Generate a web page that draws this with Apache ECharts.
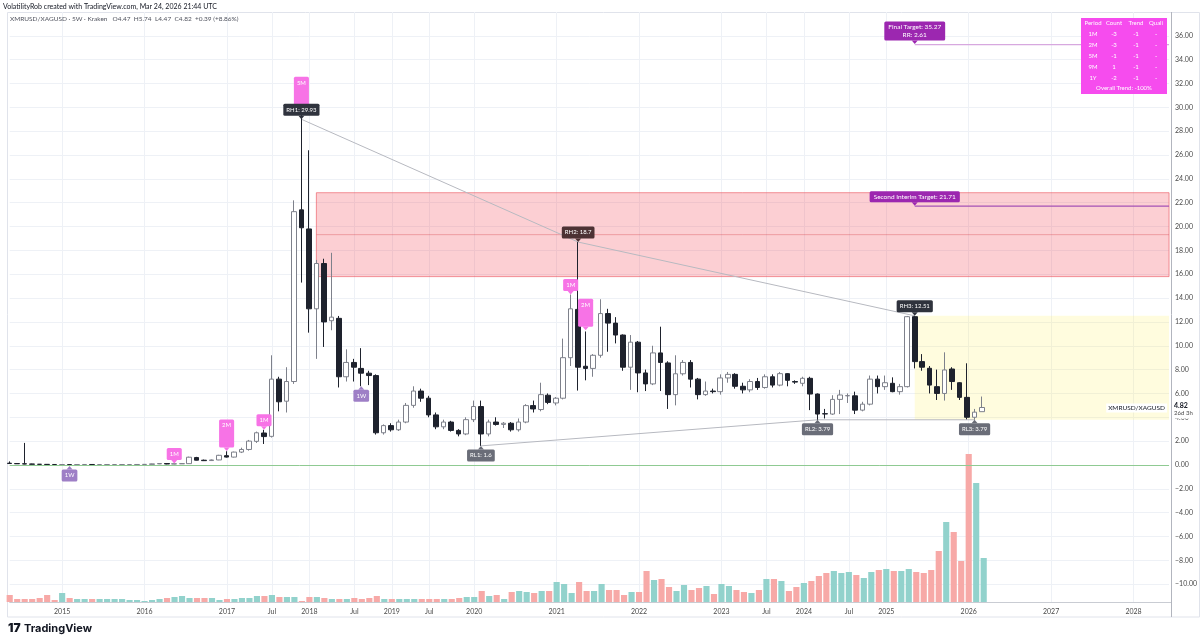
<!DOCTYPE html>
<html><head><meta charset="utf-8">
<script src="https://cdn.jsdelivr.net/npm/echarts@6/dist/echarts.min.js"></script>
<style>html,body{margin:0;padding:0;background:#fff}#c{width:1200px;height:641px}</style>
</head><body><div id="c"></div>
<script>
// ---------------- DATA ----------------
// 5W candles XMRUSD/XAGUSD (Kraken): [open, high, low, close], bar index = position
const CANDLES = [
 [0.15,0.30,0.10,0.12],[0.12,0.15,0.08,0.10],[0.10,1.85,0.06,0.08],[0.08,0.10,0.05,0.06],[0.06,0.08,0.04,0.05],
 [0.05,0.07,0.03,0.04],[0.04,0.06,0.02,0.03],[0.03,0.05,0.02,0.03],[0.03,0.04,0.02,0.02],[0.02,0.04,0.02,0.03],
 [0.03,0.05,0.02,0.04],[0.04,0.05,0.03,0.03],[0.03,0.04,0.02,0.03],[0.03,0.04,0.02,0.03],[0.03,0.04,0.02,0.03],
 [0.03,0.04,0.03,0.03],[0.03,0.04,0.02,0.03],[0.03,0.05,0.03,0.04],[0.04,0.06,0.03,0.05],[0.05,0.11,0.04,0.09],
 [0.09,0.14,0.07,0.12],[0.12,0.15,0.06,0.08],[0.08,0.12,0.06,0.10],[0.10,0.14,0.08,0.11],[0.11,0.70,0.10,0.65],
 [0.62,0.68,0.38,0.40],[0.40,0.45,0.33,0.36],[0.37,0.46,0.33,0.42],[0.42,0.85,0.40,0.81],[0.78,1.15,0.62,0.66],
 [0.66,1.12,0.62,1.08],[1.08,1.45,1.00,1.30],[1.30,2.10,1.20,2.00],[1.98,2.80,1.85,2.70],[2.68,2.95,1.76,2.38],
 [2.40,9.20,2.30,7.20],[7.20,7.40,4.50,5.30],[5.35,8.20,4.40,7.00],[7.00,22.20,6.80,21.25],[21.40,29.93,15.30,19.90],
 [19.80,26.40,11.10,13.10],[13.10,17.20,8.90,16.90],[16.90,17.30,9.90,12.00],[12.10,17.80,11.30,12.40],[12.30,12.50,6.50,7.40],
 [7.40,9.70,7.00,8.60],[8.60,8.90,7.00,8.20],[8.10,9.80,6.60,7.70],[7.70,7.90,6.70,7.50],[7.50,7.60,2.55,2.70],
 [2.70,3.40,2.55,3.30],[3.30,3.50,2.80,2.95],[2.95,3.80,2.85,3.60],[3.60,5.20,3.50,5.00],[5.00,6.60,4.80,6.20],
 [6.20,6.40,5.30,5.60],[5.60,5.80,4.00,4.20],[4.20,4.40,3.00,3.20],[3.20,3.80,3.00,3.60],[3.60,3.70,2.80,2.90],
 [2.90,3.00,2.40,2.60],[2.60,4.00,2.50,3.80],[3.80,5.40,3.60,4.90],[4.90,5.40,1.60,2.60],[2.60,3.80,2.40,3.60],
 [3.60,4.00,3.30,3.40],[3.40,3.60,3.10,3.50],[3.50,3.60,2.80,2.95],[2.95,3.90,2.80,3.60],[3.60,5.10,3.50,4.98],
 [4.98,5.40,4.40,4.70],[4.65,6.90,4.50,5.90],[5.85,6.00,5.10,5.25],[5.20,5.70,5.00,5.60],[5.60,10.60,5.50,9.00],
 [9.00,14.30,8.30,13.10],[13.05,18.70,6.24,8.20],[8.28,11.20,7.10,8.10],[8.10,9.30,7.40,9.20],[9.20,13.90,9.00,12.70],
 [12.70,13.10,9.50,11.90],[11.90,12.40,10.20,10.90],[10.90,10.95,7.90,8.20],[8.20,10.90,6.30,10.30],[10.30,10.40,6.10,7.72],
 [7.72,8.00,6.20,6.80],[6.80,10.00,6.70,9.40],[9.40,11.60,6.20,8.60],[8.56,8.70,4.70,5.90],[5.90,9.20,5.00,7.65],
 [7.65,8.80,7.50,8.60],[8.60,8.80,6.50,7.20],[7.20,7.30,5.50,5.90],[5.90,7.00,5.80,6.20],[6.20,6.40,6.00,6.15],
 [6.15,7.60,5.90,7.30],[7.30,7.80,6.90,7.60],[7.60,7.70,6.40,6.60],[6.60,6.90,6.00,6.30],[6.30,7.20,6.10,7.00],
 [7.00,7.30,6.30,6.50],[6.50,7.60,6.40,7.40],[7.40,7.60,6.50,6.70],[6.70,7.80,6.60,7.66],[7.66,7.70,6.60,7.10],
 [7.00,7.10,6.80,6.95],[6.85,7.40,6.60,7.27],[7.27,7.40,4.60,5.95],[5.95,6.00,3.79,4.27],[4.30,4.70,3.90,4.28],
 [4.27,5.85,4.20,5.50],[5.50,6.30,4.27,5.87],[5.80,6.00,5.20,5.82],[5.80,6.15,4.27,4.60],[4.60,5.30,4.50,5.10],
 [5.10,7.50,5.00,7.20],[7.20,7.50,6.00,6.57],[6.57,7.50,6.30,6.90],[6.85,7.35,6.10,6.15],[6.15,6.80,5.90,6.57],
 [6.57,12.50,6.50,12.44],[12.44,12.51,8.10,8.67],[8.67,9.30,7.90,8.20],[8.11,8.30,6.00,6.70],[6.57,8.00,5.45,6.00],
 [6.00,9.45,5.40,7.97],[8.05,8.20,6.30,7.00],[6.90,6.95,5.45,5.67],[5.67,8.53,3.83,4.00],[4.00,4.70,3.79,4.43],
 [4.47,5.74,4.47,4.82]
];
// volume (relative units)
const VOLUME = [
 7,3,3,3,4,7,2,9,4,3, 3,3,3,3,3,3,2,2,1,2, 3,4,5,6,4,4,4,4,2,3,
 3,4,4,6,6,7,5,5,5,1, 5,5,4,3,3,3,4,3,4,6, 3,3,3,3,3,3,3,3,3,3,
 4,5,5,11,6,7,3,10,11,10, 9,11,11,20,18,9,20,11,11,18, 12,12,7,10,10,31,22,23,15,11,
 17,12,14,16,8,18,16,12,10,9, 12,23,23,21,11,15,19,21,26,29, 31,29,30,27,24,30,32,33,31,31,
 33,30,29,32,51,80,70,41,148,119, 44
];
const BAR_SLOTS = 156;              // visible bar slots incl. future space
const TIME_TICKS = {7:'2015',18:'2016',29:'2017',35:'Jul',40:'2018',46:'Jul',51:'2019',56:'Jul',62:'2020',
  73:'2021',84:'2022',95:'2023',101:'Jul',106:'2024',112:'Jul',117:'2025',128:'2026',139:'2027',150:'2028'};
const Y_MIN = -12, Y_MAX = 38, Y_STEP = 2;
const VOL_MAX = 590;
const PIVOT_HIGHS = [[39, 29.0], [76, 18.7], [121, 12.51]];
const PIVOT_LOWS = [[63, 1.6], [108, 3.79], [129, 3.79]];
// zones: [startBar, top, bottom, kind]
const ZONES = [[41, 22.84, 15.8, 'supply'], [121, 12.51, 3.79, 'target']];
// targets: [startBar, value, label, kind]
const TARGETS = [[121, 35.27, 'Final Target: 35.27\nRR: 2.61', 'final'], [121, 21.71, 'Second Interim Target: 21.71', 'interim']];
// callouts: [bar, value, text, kind]
const CALLOUTS = [
 [8, -0.08, '1W', 'sell'], [22, 0.12, '1M', 'buy'], [29, 1.17, '2M\n\n', 'buy'], [34, 2.95, '1M', 'buy'],
 [39, 29.93, '5M\n\n', 'buy'], [39, 29.0, 'RH1: 29.93', 'high'], [47, 6.6, '1W', 'sell'],
 [63, 1.6, 'RL1: 1.6', 'low'], [75, 14.3, '1M', 'buy'], [76, 18.7, 'RH2: 18.7', 'high2'], [77, 11.3, '2M\n\n', 'buy'],
 [108, 3.79, 'RL2: 3.79', 'low'], [121, 12.51, 'RH3: 12.51', 'high'], [129, 3.79, 'RL3: 3.79', 'low']
];
const LAST = {bar: 130, price: 4.82, countdown: '26d 3h', symbol: 'XMRUSD/XAGUSD'};
const TABLE_HEADER = ['Period', 'Count', 'Trend', 'Quali'];
const TABLE_ROWS = [['1M','-3','-1','-'],['2M','-3','-1','-'],['5M','-1','-1','-'],['9M','1','-1','-'],['1Y','-2','-1','-']];
const TABLE_FOOT = 'Overall Trend: -100%';
const TITLE = 'VolatilityRob created with TradingView.com, Mar 24, 2026 21:44 UTC';
const LEGEND = 'XMRUSD/XAGUSD · 5W · Kraken   O4.47  H5.74  L4.47  C4.82  +0.39 (+8.86%)';

// ---------------- STYLE ----------------
const FONT = 'Lato, "Liberation Sans", sans-serif';
const UP_VOL = '#92d2cc', DOWN_VOL = '#f7a9a7';
const CALLOUT_STYLE = {
  buy:  {fill: '#f773e6', dir: 'down'},
  sell: {fill: '#9e7fc6', dir: 'up'},
  high: {fill: '#2f333d', dir: 'down'},
  high2:{fill: '#4d3234', dir: 'down'},
  low:  {fill: '#6a6d78', dir: 'up'}
};
const ZONE_STYLE = {
  supply: {fill: 'rgba(242,54,69,0.24)', stroke: 'rgba(235,80,90,0.6)', mid: 'rgba(220,90,100,0.45)'},
  target: {fill: 'rgba(255,235,59,0.17)', stroke: null, mid: null}
};
const TARGET_STYLE = {final: {box: '#9c27b0', line: '#d7a8df'}, interim: {box: '#9c27b0', line: '#a552b6'}};

const chart = echarts.init(document.getElementById('c'), null, {renderer: 'canvas'});
const CATEGORIES = Array.from({length: BAR_SLOTS}, (_, i) => String(i));
const isTick = (i) => TIME_TICKS[i] !== undefined;

function zoneItem(params, api) {
  const z = ZONES[params.dataIndex]; const st = ZONE_STYLE[z[3]];
  const cs = params.coordSys;
  const p1 = api.coord([z[0], z[1]]), p2 = api.coord([z[0], z[2]]);
  const right = cs.x + cs.width;
  const ch = [{type: 'rect', shape: {x: p1[0], y: p1[1], width: right - p1[0], height: p2[1] - p1[1]},
    style: {fill: st.fill, stroke: st.stroke || null, lineWidth: 1}}];
  if (st.mid) {
    const my = (p1[1] + p2[1]) / 2;
    ch.push({type: 'line', shape: {x1: p1[0], y1: my, x2: right, y2: my}, style: {stroke: st.mid, lineWidth: 1}});
  }
  return {type: 'group', children: ch};
}
function targetItem(params, api) {
  const t = TARGETS[params.dataIndex]; const st = TARGET_STYLE[t[3]];
  const cs = params.coordSys; const p = api.coord([t[0], t[1]]);
  return {type: 'group', children: [
    {type: 'line', shape: {x1: p[0], y1: p[1], x2: cs.x + cs.width, y2: p[1]}, style: {stroke: st.line, lineWidth: 1.2}},
    {type: 'polygon', shape: {points: [[p[0]-3, p[1]-4], [p[0]+3, p[1]-4], [p[0], p[1]-0.5]]}, style: {fill: st.box}},
    {type: 'text', x: p[0], y: p[1] - 4, style: {text: t[2], align: 'center', verticalAlign: 'bottom', fill: '#fff',
      fontSize: 6.5, fontFamily: FONT, lineHeight: 8, backgroundColor: st.box, padding: [1.5, 4, 1.5, 4], borderRadius: 1.5}}
  ]};
}
function calloutItem(params, api) {
  const c = CALLOUTS[params.dataIndex]; const st = CALLOUT_STYLE[c[3]];
  const p = api.coord([c[0], c[1]]);
  const down = st.dir === 'down';
  const tri = down ? [[p[0]-3, p[1]-3.5], [p[0]+3, p[1]-3.5], [p[0], p[1]]]
                   : [[p[0]-3, p[1]+3.5], [p[0]+3, p[1]+3.5], [p[0], p[1]]];
  return {type: 'group', children: [
    {type: 'polygon', shape: {points: tri}, style: {fill: st.fill}},
    {type: 'text', x: p[0], y: down ? p[1] - 3.5 : p[1] + 3.5,
      style: {text: c[2], align: 'center', verticalAlign: down ? 'bottom' : 'top', fill: '#fff',
        fontSize: 6, fontFamily: FONT, lineHeight: 8, backgroundColor: st.fill, padding: [2, 3, 2, 3], borderRadius: 1.5}}
  ]};
}
function lastPriceItem(params, api) {
  const cs = params.coordSys; const p = api.coord([LAST.bar, LAST.price]);
  const ax = cs.x + cs.width;
  return {type: 'group', children: [
    {type: 'rect', shape: {x: ax + 1, y: p[1] - 6, width: 28, height: 17}, style: {fill: '#fff'}},
    {type: 'text', x: ax + 5, y: p[1] - 5, style: {text: LAST.price.toFixed(2), fill: '#131722', fontSize: 7, fontWeight: 'bold', fontFamily: FONT, verticalAlign: 'top'}},
    {type: 'text', x: ax + 5, y: p[1] + 3, style: {text: LAST.countdown, fill: '#4a4a4a', fontSize: 6, fontFamily: FONT, verticalAlign: 'top'}},
    {type: 'text', x: ax - 2, y: p[1] + 0.5, style: {text: LAST.symbol, fill: '#131722', fontSize: 6.5, fontFamily: FONT, align: 'right', verticalAlign: 'middle', backgroundColor: '#fff', padding: [1, 2]}}
  ]};
}

const graphics = [
  {type: 'rect', z: 0, silent: true, shape: {x: 7.5, y: 12.5, width: 1192, height: 604.5}, style: {fill: null, stroke: '#e0e3eb', lineWidth: 1}},
  {type: 'line', z: 100, shape: {x1: 1171.5, y1: 12, x2: 1171.5, y2: 617}, style: {stroke: '#b2b5be', lineWidth: 1}},
  {type: 'text', z: 100, x: 3, y: 3, style: {text: TITLE, fill: '#131722', fontSize: 7, fontFamily: FONT}},
  {type: 'text', z: 100, x: 10, y: 15, style: {text: LEGEND, fill: '#50535e', fontSize: 6.5, fontFamily: FONT}},
  {type: 'text', z: 100, x: 8, y: 622, style: {text: '17', fill: '#131722', fontSize: 12, fontWeight: 900, fontFamily: 'Inter, sans-serif'}},
  {type: 'text', z: 100, x: 24, y: 623, style: {text: 'TradingView', fill: '#131722', fontSize: 11, fontWeight: 'bold', fontFamily: 'Inter, sans-serif'}}
];
// table
const TX = [1093, 1114, 1136, 1156];
graphics.push({type: 'rect', z: 100, shape: {x: 1081, y: 18, width: 86, height: 76}, style: {fill: '#f64cee'}});
TABLE_HEADER.forEach((h, k) => graphics.push({type: 'text', z: 101, x: TX[k], y: 23, style: {text: h, fill: '#fff', fontSize: 6, fontFamily: FONT, align: 'center', verticalAlign: 'middle'}}));
TABLE_ROWS.forEach((row, r) => row.forEach((cell, k) => graphics.push({type: 'text', z: 101, x: TX[k], y: 34.5 + r * 10.8,
  style: {text: cell, fill: '#fff', fontSize: 6, fontFamily: FONT, align: 'center', verticalAlign: 'middle'}})));
graphics.push({type: 'text', z: 101, x: 1124, y: 88.5, style: {text: TABLE_FOOT, fill: '#fff', fontSize: 6, fontFamily: FONT, align: 'center', verticalAlign: 'middle'}});

const option = {
  animation: false,
  grid: [{left: 9.7, right: 29, top: 12, bottom: 33}, {left: 9.7, right: 29, top: 12, bottom: 39}],
  xAxis: [
    {type: 'category', gridIndex: 0, data: CATEGORIES, boundaryGap: false, show: false},
    {type: 'category', gridIndex: 1, data: CATEGORIES, boundaryGap: false,
      axisLine: {lineStyle: {color: '#c9ccd3'}}, axisTick: {show: false},
      axisLabel: {interval: (i) => isTick(i), formatter: (v, i) => TIME_TICKS[i] || '', fontSize: 7, color: '#4a4a4a', margin: 6, fontFamily: FONT},
      splitLine: {show: true, interval: (i) => isTick(i), lineStyle: {color: '#eef1f6'}}}
  ],
  yAxis: [
    {type: 'value', gridIndex: 0, position: 'right', min: Y_MIN, max: Y_MAX, interval: Y_STEP,
      axisLine: {show: false}, axisTick: {show: false},
      axisLabel: {showMinLabel: false, showMaxLabel: false, fontSize: 7, color: '#4a4a4a', margin: 6, fontFamily: FONT,
        formatter: (v) => v.toFixed(2).replace('-', '−')},
      splitLine: {show: true, showMinLine: false, showMaxLine: false, lineStyle: {color: '#eef1f6'}}},
    {type: 'value', gridIndex: 1, min: 0, max: VOL_MAX, show: false, splitLine: {show: false}}
  ],
  graphic: graphics,
  series: [
    {type: 'bar', name: 'Volume', xAxisIndex: 1, yAxisIndex: 1, barWidth: '82%', z: 1,
      data: VOLUME.map((v, i) => ({value: v, itemStyle: {color: CANDLES[i][3] >= CANDLES[i][0] ? UP_VOL : DOWN_VOL}}))},
    {type: 'custom', name: 'zones', xAxisIndex: 0, yAxisIndex: 0, z: 1, renderItem: zoneItem,
      data: ZONES.map(z => [z[0], z[1], z[2]])},
    {type: 'candlestick', name: 'XMRUSD/XAGUSD', xAxisIndex: 0, yAxisIndex: 0, z: 3, barWidth: '68%', clip: false,
      data: CANDLES.map(([o, h, l, c]) => [o, c, l, h]),
      itemStyle: {color: '#ffffff', color0: '#1e222d', borderColor: '#7e818b', borderColor0: '#1e222d', borderWidth: 1},
      markLine: {silent: true, symbol: 'none', label: {show: false}, lineStyle: {color: '#8fca92', width: 1, type: 'solid'}, data: [{yAxis: 0}]}},
    {type: 'line', name: 'pivot highs', xAxisIndex: 0, yAxisIndex: 0, z: 2, data: PIVOT_HIGHS, showSymbol: false, lineStyle: {color: '#b7b9c0', width: 1}},
    {type: 'line', name: 'pivot lows', xAxisIndex: 0, yAxisIndex: 0, z: 2, data: PIVOT_LOWS, showSymbol: false, lineStyle: {color: '#b7b9c0', width: 1}},
    {type: 'custom', name: 'targets', xAxisIndex: 0, yAxisIndex: 0, z: 4, renderItem: targetItem, data: TARGETS.map(t => [t[0], t[1]])},
    {type: 'custom', name: 'callouts', xAxisIndex: 0, yAxisIndex: 0, z: 5, renderItem: calloutItem, data: CALLOUTS.map(c => [c[0], c[1]])},
    {type: 'custom', name: 'last', xAxisIndex: 0, yAxisIndex: 0, z: 6, renderItem: lastPriceItem, data: [[LAST.bar, LAST.price]]}
  ]
};
chart.setOption(option);
</script></body></html>
